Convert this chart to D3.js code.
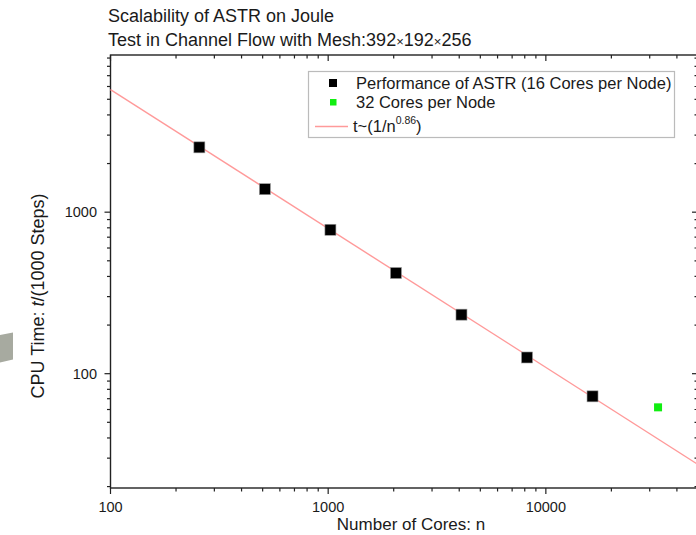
<!DOCTYPE html>
<html>
<head>
<meta charset="utf-8">
<script src="https://cdn.jsdelivr.net/npm/d3@7"></script>
<style>
  body { margin: 0; background: #fff; }
  text { font-family: "Liberation Sans", Arial, sans-serif; fill: #1a1a1a; }
</style>
</head>
<body>
<div id="chart"></div>
<script>
// measured data
const cores16 = [256, 512, 1024, 2048, 4096, 8192, 16384];
const time16 = [2520, 1388, 778, 420, 232, 126, 72.4];
const cores32 = [32768];
const time32 = [61.9];
// fitted line t~(1/n^0.86), endpoints read at the axis limits
const fitCores = [100, 50000];
const fitTime = [5740, 27.4];
const xTickVals = [100, 1000, 10000];
const yTickVals = [100, 1000];

const width = 696, height = 535;
const margin = {top: 55, right: -2, bottom: 47, left: 110.5};
const innerW = width - margin.left - margin.right;
const innerH = height - margin.top - margin.bottom;

const svg = d3.select("#chart")
    .append("svg")
    .attr("width", width)
    .attr("height", height);

// grey scrap at the left edge of the picture
svg.append("polygon")
    .attr("points", "0,335 13,332.5 13,359.5 0,362.5")
    .attr("fill", "#a7aaa0");

const g = svg.append("g")
    .attr("transform", `translate(${margin.left},${margin.top})`);

const xScale = d3.scaleLog().domain([100, 50000]).range([0, innerW]);
const yScale = d3.scaleLog().domain([19.6, 9400]).range([innerH, 0]);

const xMinor = [];
for (const dec of [100, 1000, 10000]) for (let k = 2; k <= 9; k++) if (dec * k <= 50000) xMinor.push(dec * k);
const yMinor = [];
for (const dec of [10, 100, 1000]) for (let k = 2; k <= 9; k++) if (dec * k >= 19.6 && dec * k <= 9400) yMinor.push(dec * k);

function ticks(sel, vals, scale, len, horiz, base, dir) {
    sel.selectAll(null).data(vals).join("line")
        .attr("x1", d => horiz ? scale(d) : base)
        .attr("x2", d => horiz ? scale(d) : base + dir * len)
        .attr("y1", d => horiz ? base : scale(d))
        .attr("y2", d => horiz ? base + dir * len : scale(d))
        .attr("stroke", "#222").attr("stroke-width", 1.2);
}

const axes = g.append("g");
// frame
axes.append("rect")
    .attr("width", innerW).attr("height", innerH)
    .attr("fill", "none").attr("stroke", "#222").attr("stroke-width", 1.4);
// bottom & left: outward ticks
ticks(axes, xTickVals, xScale, 6, true, innerH, 1);
ticks(axes, xMinor, xScale, 3.5, true, innerH, 1);
ticks(axes, yTickVals, yScale, 6, false, 0, -1);
ticks(axes, yMinor, yScale, 3.5, false, 0, -1);
// top & right mirror ticks
ticks(axes, xTickVals, xScale, 6, true, 0, 1);
ticks(axes, xMinor, xScale, 3.5, true, 0, 1);
ticks(axes, yTickVals, yScale, 6, false, innerW, -1);
ticks(axes, yMinor, yScale, 3.5, false, innerW, -1);

g.selectAll(".xlab").data(xTickVals).join("text")
    .attr("x", d => xScale(d)).attr("y", innerH + 24)
    .attr("text-anchor", "middle").attr("font-size", 14.5)
    .text(d => d);
g.selectAll(".ylab").data(yTickVals).join("text")
    .attr("x", -13.5).attr("y", d => yScale(d)).attr("dy", "0.35em")
    .attr("text-anchor", "end").attr("font-size", 14.5)
    .text(d => d);

// axis titles
g.append("text")
    .attr("x", 411 - margin.left).attr("y", innerH + 42)
    .attr("text-anchor", "middle").attr("font-size", 17)
    .text("Number of Cores: n");
const yt = g.append("text")
    .attr("transform", `translate(${44 - margin.left},${296 - margin.top}) rotate(-90)`)
    .attr("text-anchor", "middle").attr("font-size", 18);
yt.append("tspan").text("CPU Time: ");
yt.append("tspan").attr("font-style", "italic").text("t");
yt.append("tspan").text("/(1000 Steps)");

// fit line
const line = d3.line().x((d, i) => xScale(fitCores[i])).y(d => yScale(d));
g.append("path")
    .attr("d", line(fitTime))
    .attr("fill", "none").attr("stroke", "#ff9a9a").attr("stroke-width", 1.4);

// points
g.selectAll(".p16").data(cores16).join("rect")
    .attr("x", d => xScale(d) - 5.5)
    .attr("y", (d, i) => yScale(time16[i]) - 5.5)
    .attr("width", 11).attr("height", 11)
    .attr("fill", "#000").attr("stroke", "#999").attr("stroke-width", 0.6);
g.selectAll(".p32").data(cores32).join("rect")
    .attr("x", d => xScale(d) - 4)
    .attr("y", (d, i) => yScale(time32[i]) - 4)
    .attr("width", 8).attr("height", 8)
    .attr("fill", "#11ee11");

// titles
svg.append("text").attr("x", 108).attr("y", 22).attr("font-size", 18)
    .text("Scalability of ASTR on Joule");
const t2 = svg.append("text").attr("x", 108).attr("y", 45.5).attr("font-size", 18);
t2.append("tspan").text("Test in Channel Flow with Mesh:392");
t2.append("tspan").attr("font-size", 13).text("×");
t2.append("tspan").text("192");
t2.append("tspan").attr("font-size", 13).text("×");
t2.append("tspan").text("256");

// legend
const lg = svg.append("g");
lg.append("rect")
    .attr("x", 308.5).attr("y", 71.5).attr("width", 366).attr("height", 66)
    .attr("fill", "#fff").attr("stroke", "#bbb").attr("stroke-width", 1.2);
lg.append("rect").attr("x", 329).attr("y", 79).attr("width", 8).attr("height", 8).attr("fill", "#000");
lg.append("rect").attr("x", 330).attr("y", 99).attr("width", 6.5).attr("height", 6.5).attr("fill", "#11ee11");
lg.append("line").attr("x1", 315).attr("x2", 348).attr("y1", 126.5).attr("y2", 126.5)
    .attr("stroke", "#ff9a9a").attr("stroke-width", 1.4);
lg.append("text").attr("x", 356).attr("y", 89).attr("font-size", 16.5)
    .text("Performance of ASTR (16 Cores per Node)");
lg.append("text").attr("x", 356).attr("y", 108).attr("font-size", 16.5)
    .text("32 Cores per Node");
const lt = lg.append("text").attr("x", 353).attr("y", 132).attr("font-size", 16.5);
lt.append("tspan").text("t~(1/n");
lt.append("tspan").attr("font-size", 10.5).attr("dy", -8).text("0.86");
lt.append("tspan").attr("dy", 8).text(")");
</script>
</body>
</html>
